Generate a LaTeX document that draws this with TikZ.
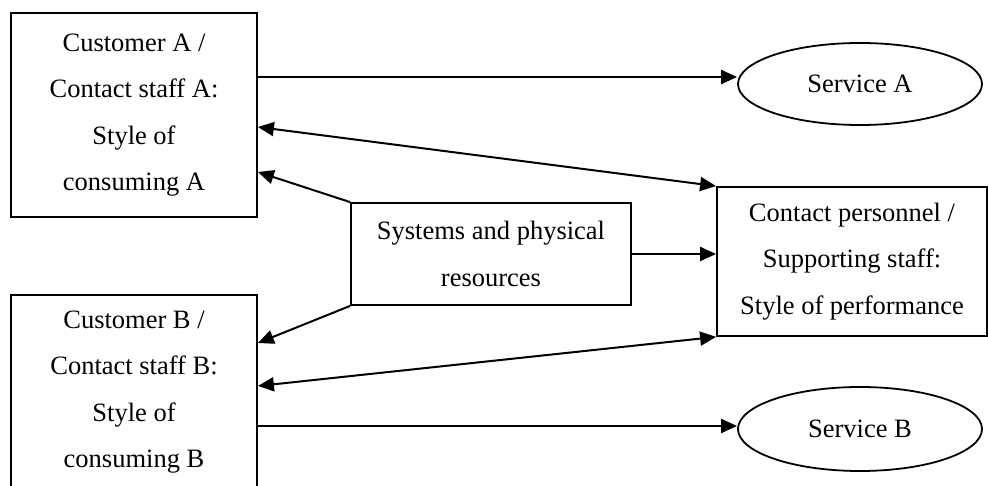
\documentclass[tikz,border=0pt]{standalone}
\usepackage{fontspec}
\setmainfont{Liberation Serif}
\usetikzlibrary{arrows.meta,shapes.geometric,calc}

\tikzset{
  box/.style={draw, line width=1.8pt, rectangle, inner sep=0pt, align=center,
    font=\fontsize{26.5}{46.5}\selectfont},
  oval/.style={draw, line width=1.8pt, ellipse, inner sep=0pt,
    font=\fontsize{26.5}{31}\selectfont},
  link/.style={line width=2pt, -{Triangle[length=16pt,width=14pt]}},
  twoway/.style={line width=2pt, {Triangle[length=16pt,width=14pt]}-{Triangle[length=16pt,width=14pt]}}
}

\begin{document}
\begin{tikzpicture}[x=1pt,y=-1pt]
  \useasboundingbox (0,0) rectangle (988,486);

  % customers / contact staff
  \node[box, minimum width=246pt, minimum height=204pt] (a) at (134,115)
    {Customer A /\\Contact staff A:\\Style of\\consuming A};
  \node[box, minimum width=246pt, minimum height=194pt] (b) at (134,392)
    {Customer B /\\Contact staff B:\\Style of\\consuming B};

  % shared resources and personnel
  \node[box, minimum width=280pt, minimum height=102pt] (c) at (491,254)
    {Systems and physical\\resources};
  \node[box, minimum width=270pt, minimum height=149pt] (r) at (852,261.5)
    {Contact personnel /\\Supporting staff:\\Style of performance};

  % services
  \node[oval, minimum width=244pt, minimum height=82pt] (sa) at (860,84) {Service A};
  \node[oval, minimum width=244pt, minimum height=84pt] (sb) at (860,429) {Service B};

  % connectors
  \draw[link] ([yshift=38pt]a.east) -- ([yshift=7pt]sa.west);
  \draw[twoway] ([yshift=-12pt]a.east) -- (r.north west);
  \draw[link] (c.north west) -- ([yshift=-57pt]a.east);
  \draw[link] (c.south west) -- ([yshift=49pt]b.east);
  \draw[link] (c.east) -- (r.west |- c.east);
  \draw[twoway] ([yshift=6pt]b.east) -- (r.south west);
  \draw[link] ([yshift=-34pt]b.east) -- ([yshift=3pt]sb.west);
\end{tikzpicture}
\end{document}
